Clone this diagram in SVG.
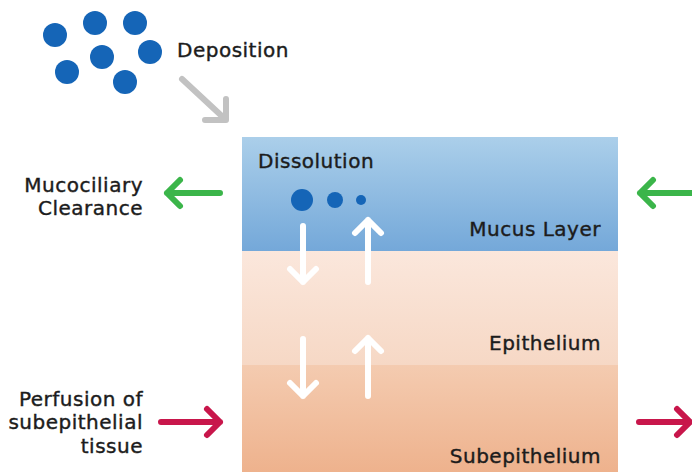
<svg xmlns="http://www.w3.org/2000/svg" width="692" height="472" viewBox="0 0 692 472">
  <defs>
    <linearGradient id="gMucus" x1="0" y1="0" x2="0" y2="1">
      <stop offset="0" stop-color="#abcfea"/>
      <stop offset="1" stop-color="#74a8d9"/>
    </linearGradient>
    <linearGradient id="gEpi" x1="0" y1="0" x2="0" y2="1">
      <stop offset="0" stop-color="#fbe7dc"/>
      <stop offset="1" stop-color="#f6d8c5"/>
    </linearGradient>
    <linearGradient id="gSub" x1="0" y1="0" x2="0" y2="1">
      <stop offset="0" stop-color="#f4cbb0"/>
      <stop offset="1" stop-color="#eeb28d"/>
    </linearGradient>
  </defs>
  <style>
    text { font-family: "DejaVu Sans", "Noto Sans", sans-serif; font-size: 20px; letter-spacing: 0.5px; fill: #1c1c1c; stroke: #1c1c1c; stroke-width: 0.4px; }
    .end { text-anchor: end; }
    .dot { fill: #1565b7; }
    .arr { fill: none; stroke-width: 6; stroke-linecap: round; stroke-linejoin: round; }
    .gray { stroke: #c2c2c2; }
    .white { stroke: #ffffff; }
    .green { stroke: #3bb54a; }
    .red { stroke: #c8164b; }
  </style>

  <rect width="692" height="472" fill="#ffffff"/>

  <!-- tissue layers -->
  <g id="mucus-layer">
    <rect x="242" y="137" width="376" height="114" fill="url(#gMucus)"/>
    <text x="258" y="168">Dissolution</text>
    <text class="end" x="601" y="236">Mucus Layer</text>
    <circle class="dot" cx="302" cy="200" r="11"/>
    <circle class="dot" cx="335" cy="200" r="8"/>
    <circle class="dot" cx="361" cy="200" r="5"/>
  </g>
  <g id="epithelium">
    <rect x="242" y="251" width="376" height="114" fill="url(#gEpi)"/>
    <text class="end" x="601" y="350">Epithelium</text>
  </g>
  <g id="subepithelium">
    <rect x="242" y="365" width="376" height="107" fill="url(#gSub)"/>
    <text class="end" x="601" y="463">Subepithelium</text>
  </g>

  <!-- deposited particles -->
  <g id="deposition">
    <circle class="dot" cx="55" cy="35" r="12"/>
    <circle class="dot" cx="95" cy="23" r="12"/>
    <circle class="dot" cx="135" cy="23" r="12"/>
    <circle class="dot" cx="150" cy="52" r="12"/>
    <circle class="dot" cx="102" cy="57" r="12"/>
    <circle class="dot" cx="67" cy="72" r="12"/>
    <circle class="dot" cx="125" cy="82" r="12"/>
    <text x="177" y="57">Deposition</text>
  </g>

  <g id="mucociliary-clearance">
    <text class="end" x="143" y="192">Mucociliary</text>
    <text class="end" x="143" y="215">Clearance</text>
  </g>

  <g id="perfusion">
    <text class="end" x="143" y="406">Perfusion of</text>
    <text class="end" x="143" y="429">subepithelial</text>
    <text class="end" x="143" y="453">tissue</text>
  </g>

  <!-- connectors -->
  <g id="connectors">
    <!-- deposition into mucus -->
    <path class="arr gray" d="M182 79 L225 119 M226 99 L226 120 L205 120"/>
    <!-- transport between layers -->
    <path class="arr white" d="M303 226 L303 282 M290 269 L303 282 L316 269"/>
    <path class="arr white" d="M368 282 L368 220 M355 233 L368 220 L381 233"/>
    <path class="arr white" d="M303 339 L303 396 M290 383 L303 396 L316 383"/>
    <path class="arr white" d="M368 396 L368 338 M355 351 L368 338 L381 351"/>
    <!-- clearance -->
    <path class="arr green" d="M220 193 L167 193 M180 180 L167 193 L180 206"/>
    <path class="arr green" d="M700 193 L640 193 M653 180 L640 193 L653 206"/>
    <!-- perfusion -->
    <path class="arr red" d="M161 422 L220 422 M207 409 L220 422 L207 435"/>
    <path class="arr red" d="M639 422 L690 422 M677 409 L690 422 L677 435"/>
  </g>
</svg>
